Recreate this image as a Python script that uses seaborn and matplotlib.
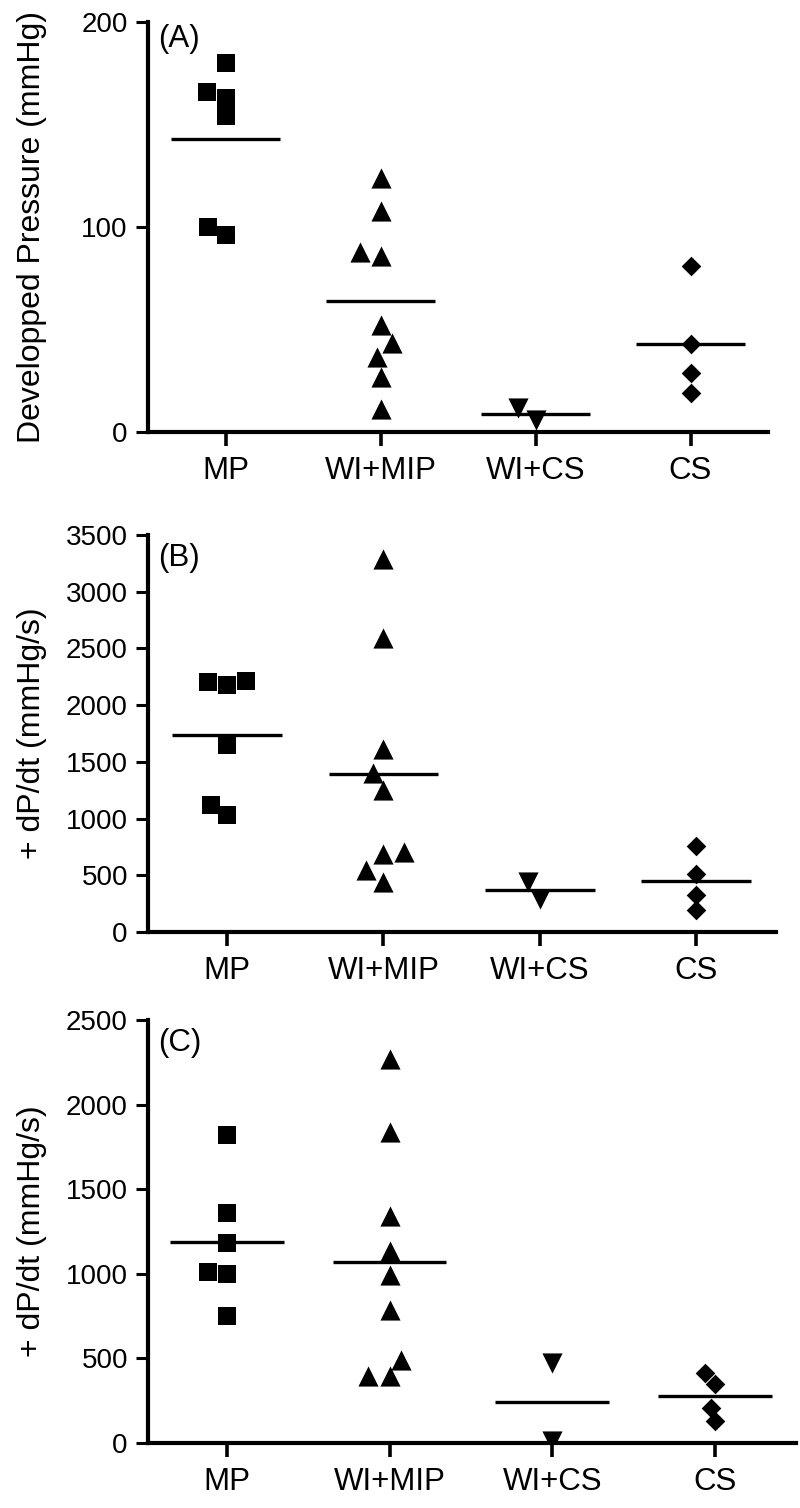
import numpy as np
import pandas as pd
import matplotlib
matplotlib.use("Agg")
import matplotlib.pyplot as plt
import seaborn as sns

# ---------------- data ----------------
categories = ["MP", "WI+MIP", "WI+CS", "CS"]

a_mp = [180, 166, 163, 154, 100, 96]
a_wimip = [124, 108, 88, 86, 52, 43.5, 36.7, 27, 11]
a_wics = [6, 11.5]
a_cs = [81, 43, 29, 19]

b_mp = [2215, 2176, 2200, 1647, 1124, 1035]
b_wimip = [3285, 2588, 1612, 1403, 1250, 706, 691, 544, 441]
b_wics = [294, 441]
b_cs = [759, 515, 324, 191]

c_mp = [1818, 1360, 1183, 1013, 996, 749]
c_wimip = [2267, 1838, 1341, 1134, 990, 789, 493, 394, 398]
c_wics = [470, 10]
c_cs = [414, 351, 207, 128]

a_yticks = [0, 100, 200]
b_yticks = [0, 500, 1000, 1500, 2000, 2500, 3000, 3500]
c_yticks = [0, 500, 1000, 1500, 2000, 2500]

a_ylabel = "Developped Pressure (mmHg)"
b_ylabel = "+ dP/dt (mmHg/s)"
c_ylabel = "+ dP/dt (mmHg/s)"

# ---------------- style ----------------
sns.set_style("ticks")
plt.rcParams["font.family"] = ["Liberation Sans", "DejaVu Sans"]
plt.rcParams["text.color"] = "black"
plt.rcParams["axes.labelcolor"] = "black"
plt.rcParams["xtick.color"] = "black"
plt.rcParams["ytick.color"] = "black"
plt.rcParams["xtick.labelcolor"] = "black"
plt.rcParams["ytick.labelcolor"] = "black"

markers = ["s", "^", "v", "D"]
marker_sizes = [13.2, 14.5, 14.5, 10.0]

W, H = 800, 1508
fig = plt.figure(figsize=(W / 100, H / 100), dpi=100)

panels = [
    dict(groups=[a_mp, a_wimip, a_wics, a_cs], yticks=a_yticks, ylabel=a_ylabel,
         tag="(A)", box=(148, 768, 22, 432), xlim=(-0.5, 3.5), tag_dy=17),
    dict(groups=[b_mp, b_wimip, b_wics, b_cs], yticks=b_yticks, ylabel=b_ylabel,
         tag="(B)", box=(148, 776, 535, 932), xlim=(-0.505, 3.51), tag_dy=23),
    dict(groups=[c_mp, c_wimip, c_wics, c_cs], yticks=c_yticks, ylabel=c_ylabel,
         tag="(C)", box=(148, 796, 1020, 1443), xlim=(-0.486, 3.5), tag_dy=23),
]

for p in panels:
    l, r, t, b = p["box"]
    wpx, hpx = r - l, b - t
    ax = fig.add_axes([l / W, 1 - b / H, wpx / W, hpx / H])

    df = pd.DataFrame({
        "group": np.concatenate([[c] * len(g) for c, g in zip(categories, p["groups"])]),
        "value": np.concatenate([np.asarray(g, float) for g in p["groups"]]),
    })

    for i, cat in enumerate(categories):
        sub = df[df["group"] == cat]
        sns.swarmplot(data=sub, x="group", y="value", order=categories, ax=ax,
                      marker=markers[i], size=marker_sizes[i], color="black",
                      linewidth=0, zorder=3)

    means = df.groupby("group", sort=False)["value"].mean()
    for i, cat in enumerate(categories):
        ax.hlines(means[cat], i - 0.35, i + 0.35, color="black", lw=2.4, zorder=4)

    ax.set_xlim(*p["xlim"])
    ax.set_ylim(p["yticks"][0], p["yticks"][-1])
    ax.set_yticks(p["yticks"])
    ax.set_xticks(range(len(categories)))
    ax.set_xticklabels(categories)
    ax.set_xlabel("")
    ax.set_ylabel(p["ylabel"], fontsize=23, color="black")
    ax.yaxis.set_label_coords((32 - l) / wpx, 0.5)
    ax.yaxis.label.set_verticalalignment("center")

    for side in ["top", "right"]:
        ax.spines[side].set_visible(False)
    for side in ["left", "bottom"]:
        ax.spines[side].set_linewidth(3)
        ax.spines[side].set_color("black")
        ax.spines[side].set_zorder(5)

    ax.tick_params(axis="y", length=9, width=2.2, pad=5.5, labelsize=20,
                   color="black", labelcolor="black")
    ax.tick_params(axis="x", length=10, width=2.6, pad=7, labelsize=22.5,
                   color="black", labelcolor="black")

    ax.text(10 / wpx, 1 - p["tag_dy"] / hpx, p["tag"], transform=ax.transAxes,
            ha="left", va="center", fontsize=22.5, color="black")

fig.savefig("out.png", dpi=100)
